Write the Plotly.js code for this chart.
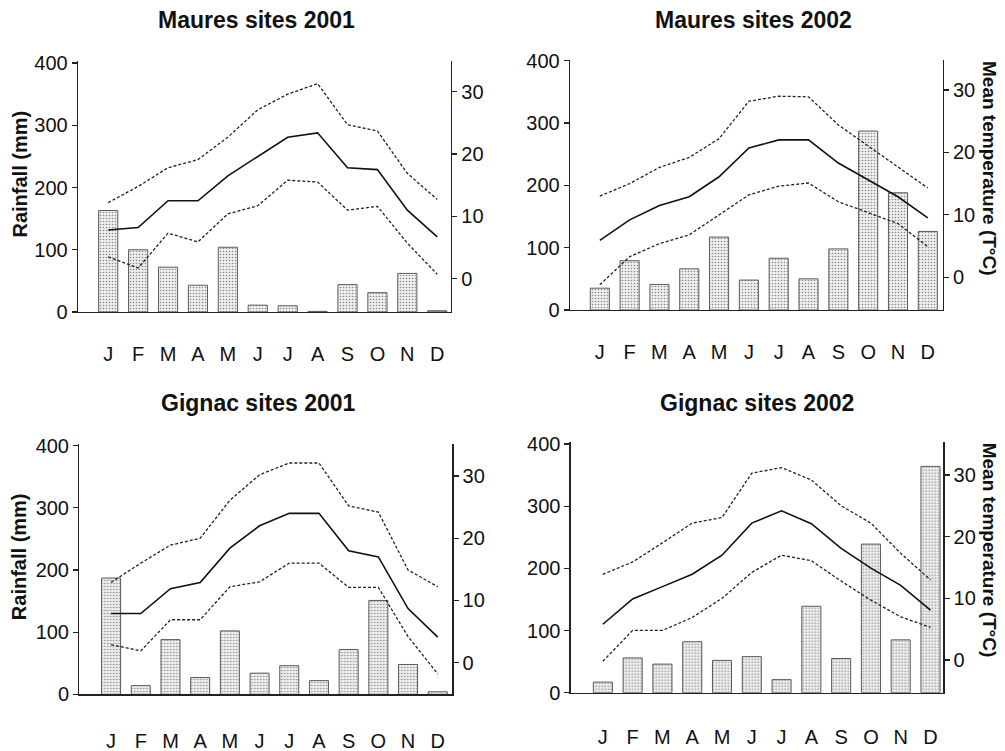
<!DOCTYPE html>
<html>
<head>
<meta charset="utf-8">
<script src="https://cdn.plot.ly/plotly-3.0.1.min.js"></script>
<style>html,body{margin:0;padding:0;background:#fff;} #chart{width:1005px;height:751px;}</style>
</head>
<body>
<div id="chart"></div>
<script>
// ---- data ----
const months = ['Jan','Feb','Mar','Apr','May','Jun','Jul','Aug','Sep','Oct','Nov','Dec'];
const monthLetters = ['J','F','M','A','M','J','J','A','S','O','N','D'];
const panelTitles = ['Maures sites 2001','Maures sites 2002','Gignac sites 2001','Gignac sites 2002'];

// Maures 2001
const rainMaures2001 = [163, 100, 72, 43, 104, 11, 10, 1, 44, 31, 62, 2];
const tMeanMaures2001 = [7.8, 8.2, 12.5, 12.5, 16.5, 19.6, 22.7, 23.4, 17.8, 17.5, 11.0, 6.7];
const tMaxMaures2001  = [12.2, 14.8, 17.8, 19.1, 22.7, 27.1, 29.6, 31.3, 24.7, 23.7, 16.9, 12.7];
const tMinMaures2001  = [3.5, 1.7, 7.3, 5.9, 10.4, 11.7, 15.8, 15.5, 11.0, 11.6, 5.7, 0.7];

// Maures 2002
const rainMaures2002 = [35, 79, 41, 66, 117, 48, 83, 50, 98, 287, 188, 126];
const tMeanMaures2002 = [5.9, 9.2, 11.5, 12.9, 16.1, 20.7, 22.0, 22.0, 18.3, 15.6, 12.9, 9.5];
const tMaxMaures2002  = [13.0, 15.0, 17.6, 19.2, 22.2, 28.2, 29.0, 28.9, 24.4, 21.0, 17.7, 14.3];
const tMinMaures2002  = [-1.2, 3.3, 5.4, 6.8, 10.0, 13.2, 14.6, 15.1, 12.1, 10.3, 8.6, 4.9];

// Gignac 2001
const rainGignac2001 = [187, 14, 88, 27, 102, 34, 46, 22, 72, 151, 48, 4];
const tMeanGignac2001 = [7.9, 7.9, 11.9, 12.9, 18.4, 22.0, 24.0, 24.0, 18.0, 17.0, 8.7, 4.1];
const tMaxGignac2001  = [12.9, 16.0, 18.9, 20.0, 26.1, 30.2, 32.1, 32.1, 25.2, 24.2, 14.9, 12.2];
const tMinGignac2001  = [2.9, 1.9, 6.9, 6.9, 12.2, 13.0, 16.0, 16.0, 12.1, 12.1, 4.2, -1.8];

// Gignac 2002
const rainGignac2002 = [17, 56, 46, 82, 52, 58, 21, 139, 55, 239, 85, 364];
const tMeanGignac2002 = [5.8, 9.9, 11.9, 13.9, 17.0, 22.2, 24.2, 22.1, 18.1, 14.9, 12.1, 8.1];
const tMaxGignac2002  = [13.9, 15.9, 19.0, 22.2, 23.1, 30.3, 31.2, 29.2, 25.0, 22.2, 17.3, 13.0];
const tMinGignac2002  = [-0.2, 4.8, 4.8, 6.9, 10.0, 14.2, 17.0, 16.1, 12.8, 9.7, 7.0, 5.3];

const rainTicks = [0, 100, 200, 300, 400];
const tempTicks = [0, 10, 20, 30];

// ---- layout helpers ----
const W = 1005, H = 751;
const FONT = 'Liberation Sans, Arial, sans-serif';
const panels = [
  {rain: rainMaures2001, mean: tMeanMaures2001, max: tMaxMaures2001, min: tMinMaures2001,
   px: [78, 451], py: [61, 312], yr: [0, 403.2], y2r: [-5.35, 34.93], xr: [-1.01, 11.46], tl: 24,
   title: [256.5, 20], leftTitle: true, rightTitle: false},
  {rain: rainMaures2002, mean: tMeanMaures2002, max: tMaxMaures2002, min: tMinMaures2002,
   px: [570, 942.7], py: [60, 310], yr: [0, 401], y2r: [-5.24, 34.8], xr: [-1.0, 11.5], tl: 24,
   title: [753, 20], leftTitle: false, rightTitle: true},
  {rain: rainGignac2001, mean: tMeanGignac2001, max: tMaxGignac2001, min: tMinGignac2001,
   px: [79.3, 452.3], py: [444, 694.3], yr: [0, 402.7], y2r: [-5.08, 35.15], xr: [-1.07, 11.49], tl: 28,
   title: [258, 403], leftTitle: true, rightTitle: false},
  {rain: rainGignac2002, mean: tMeanGignac2002, max: tMaxGignac2002, min: tMinGignac2002,
   px: [570.7, 943.3], py: [441.7, 692.7], yr: [0, 403.7], y2r: [-5.3, 35.4], xr: [-1.08, 11.43], tl: 26,
   title: [757, 403], leftTitle: false, rightTitle: true}
];

const traces = [];
const layout = {
  width: W, height: H,
  margin: {l: 0, r: 0, t: 0, b: 0},
  paper_bgcolor: '#fff', plot_bgcolor: 'rgba(0,0,0,0)',
  showlegend: false,
  font: {family: FONT, size: 20, color: '#111'},
  annotations: []
};

panels.forEach((p, i) => {
  const n = i + 1;
  const xa = 'x' + (n === 1 ? '' : n);
  const yaL = 'y' + (2 * n - 1 === 1 ? '' : (2 * n - 1));
  const yaR = 'y' + (2 * n);
  const xKey = 'xaxis' + (n === 1 ? '' : n);
  const yLKey = 'yaxis' + (2 * n - 1 === 1 ? '' : (2 * n - 1));
  const yRKey = 'yaxis' + (2 * n);

  traces.push({
    type: 'bar', x: months, y: p.rain, xaxis: xa, yaxis: yaL,
    width: 0.64,
    marker: {color: '#e2e2e2', line: {color: '#5a5a5a', width: 1},
             pattern: {shape: '.', bgcolor: '#eeeeee', fgcolor: '#8a8a8a', size: 3, solidity: 0.22}},
    hoverinfo: 'skip'
  });
  traces.push({type: 'scatter', mode: 'lines', x: months, y: p.max, xaxis: xa, yaxis: yaR,
    line: {color: '#222', width: 1.3, dash: '3px,2px'}, hoverinfo: 'skip'});
  traces.push({type: 'scatter', mode: 'lines', x: months, y: p.mean, xaxis: xa, yaxis: yaR,
    line: {color: '#111', width: 1.6}, hoverinfo: 'skip'});
  traces.push({type: 'scatter', mode: 'lines', x: months, y: p.min, xaxis: xa, yaxis: yaR,
    line: {color: '#222', width: 1.3, dash: '3px,2px'}, hoverinfo: 'skip'});

  const dx = [p.px[0] / W, p.px[1] / W];
  const dy = [1 - p.py[1] / H, 1 - p.py[0] / H];

  layout[xKey] = {
    domain: dx, anchor: yaL, type: 'category', range: p.xr,
    tickmode: 'array', tickvals: months, ticktext: monthLetters,
    showline: true, linecolor: '#222', linewidth: 1.3,
    ticks: 'outside', ticklen: p.tl, tickcolor: 'rgba(0,0,0,0)',
    showgrid: false, zeroline: false, fixedrange: true,
    tickfont: {family: FONT, size: 20, color: '#111'}
  };
  layout[yLKey] = {
    domain: dy, anchor: xa, range: p.yr, tickmode: 'array', tickvals: rainTicks,
    showline: true, linecolor: '#222', linewidth: 1.3,
    ticks: 'outside', ticklen: 5, tickcolor: '#222', tickwidth: 1.2,
    showgrid: false, zeroline: false, fixedrange: true,
    tickfont: {family: FONT, size: 20, color: '#111'}
  };
  layout[yRKey] = {
    domain: dy, anchor: xa, overlaying: yaL, side: 'right', range: p.y2r,
    tickmode: 'array', tickvals: tempTicks,
    showline: true, linecolor: '#222', linewidth: 1.3,
    ticks: 'outside', ticklen: 5, tickcolor: '#222', tickwidth: 1.2,
    showgrid: false, zeroline: false, fixedrange: true,
    tickfont: {family: FONT, size: 20, color: '#111'}
  };

  layout.annotations.push({
    text: '<b>' + panelTitles[i] + '</b>', xref: 'paper', yref: 'paper',
    x: p.title[0] / W, y: 1 - p.title[1] / H, xanchor: 'center', yanchor: 'middle',
    showarrow: false, font: {family: FONT, size: 23, color: '#111'}
  });
  if (p.leftTitle) {
    layout.annotations.push({
      text: '<b>Rainfall (mm)</b>', xref: 'paper', yref: 'paper',
      x: 19 / W, y: 1 - ((p.py[0] + p.py[1]) / 2 - 12) / H, xanchor: 'center', yanchor: 'middle',
      textangle: -90, showarrow: false, font: {family: FONT, size: 20, color: '#111'}
    });
  }
  if (p.rightTitle) {
    layout.annotations.push({
      text: '<b>Mean temperature (T°C)</b>', xref: 'paper', yref: 'paper',
      x: 989 / W, y: 1 - (p.py[0] + 108) / H, xanchor: 'center', yanchor: 'middle',
      textangle: 90, showarrow: false, font: {family: FONT, size: 19, color: '#111'}
    });
  }
});

Plotly.newPlot('chart', traces, layout, {displayModeBar: false, staticPlot: true});
</script>
</body>
</html>
